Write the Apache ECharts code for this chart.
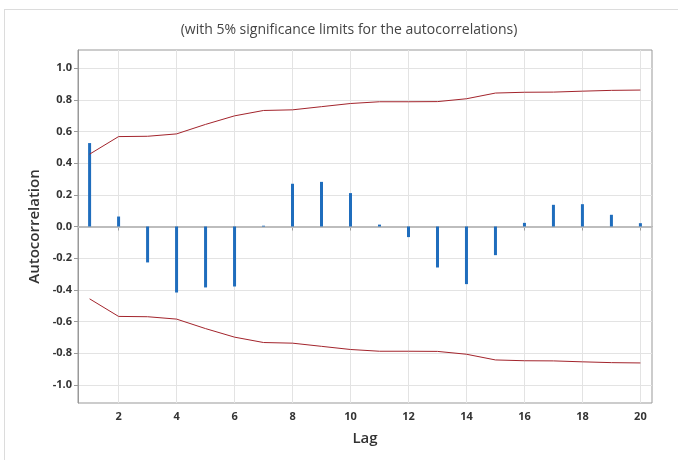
<!DOCTYPE html>
<html>
<head>
<meta charset="utf-8">
<script src="https://cdn.jsdelivr.net/npm/echarts@6/dist/echarts.min.js"></script>
<style>html,body{margin:0;padding:0;background:#fff;}#c{width:678px;height:460px;}</style>
</head>
<body>
<div id="c"></div>
<script>
const lags = [1,2,3,4,5,6,7,8,9,10,11,12,13,14,15,16,17,18,19,20];
const acf = [0.527,0.063,-0.227,-0.417,-0.385,-0.379,0.005,0.270,0.282,0.211,0.012,-0.067,-0.259,-0.364,-0.181,0.023,0.137,0.141,0.074,0.021];
const upperLimit = [0.457,0.568,0.570,0.585,0.645,0.699,0.733,0.737,0.757,0.777,0.788,0.788,0.789,0.807,0.843,0.848,0.849,0.855,0.860,0.862];
const lowerLimit = [-0.457,-0.568,-0.570,-0.585,-0.645,-0.699,-0.733,-0.737,-0.757,-0.777,-0.788,-0.788,-0.789,-0.807,-0.843,-0.848,-0.849,-0.855,-0.860,-0.862];
const xTicks = [2,4,6,8,10,12,14,16,18,20];
const yTicks = [-1,-0.8,-0.6,-0.4,-0.2,0,0.2,0.4,0.6,0.8,1];
const titleText = '(with 5% significance limits for the autocorrelations)';

const chart = echarts.init(document.getElementById('c'), null, {renderer:'canvas'});
const font = '"Open Sans", "Noto Sans", sans-serif';
chart.setOption({
  backgroundColor:'#fff',
  animation:false,
  title:{text:titleText,left:344,top:18,textAlign:'center',
    textStyle:{fontFamily:font,fontSize:14,fontWeight:'normal',color:'#444'}},
  graphic:[
    {type:'line',shape:{x1:4,y1:9.5,x2:678,y2:9.5},style:{stroke:'#dcdcdc',lineWidth:1}},
    {type:'line',shape:{x1:4.5,y1:9.5,x2:4.5,y2:460},style:{stroke:'#dcdcdc',lineWidth:1}}
  ],
  grid:{left:78,right:26,top:50,bottom:57,show:true,borderColor:'#999',borderWidth:1},
  xAxis:{type:'value',min:0.6,max:20.4,
    name:'Lag',nameLocation:'middle',nameGap:28,
    nameTextStyle:{fontFamily:font,fontSize:15,color:'#333',fontWeight:600},
    axisLine:{show:true,lineStyle:{color:'#999'}},
    axisTick:{show:true,length:4,customValues:xTicks,lineStyle:{color:'#999'}},
    axisLabel:{customValues:xTicks,fontFamily:font,fontSize:11,fontWeight:'bold',color:'#333',margin:8},
    splitLine:{show:true,lineStyle:{color:'#e3e3e3'}}},
  yAxis:{type:'value',min:-1.115,max:1.115,
    name:'Autocorrelation',nameLocation:'middle',nameGap:36,
    nameTextStyle:{fontFamily:font,fontSize:15,color:'#333',fontWeight:600},
    axisLine:{show:true,lineStyle:{color:'#999'}},
    axisTick:{show:true,length:4,customValues:yTicks,lineStyle:{color:'#999'}},
    axisLabel:{customValues:yTicks,
      formatter:v=>v.toFixed(1),fontFamily:font,fontSize:11,fontWeight:'bold',color:'#333',margin:6},
    splitLine:{show:true,lineStyle:{color:'#e3e3e3'}}},
  series:[
    {type:'bar',data:lags.map((l,i)=>[l,acf[i]]),barWidth:3,itemStyle:{color:'#1f6dbd'},
      markLine:{silent:true,symbol:'none',label:{show:false},lineStyle:{color:'#bdbdbd',width:2,type:'solid'},data:[{yAxis:0}],z:1},z:3},
    {type:'line',data:lags.map((l,i)=>[l,upperLimit[i]]),symbol:'none',lineStyle:{color:'#a3242c',width:1},z:4},
    {type:'line',data:lags.map((l,i)=>[l,lowerLimit[i]]),symbol:'none',lineStyle:{color:'#a3242c',width:1},z:4}
  ]
});
</script>
</body>
</html>
